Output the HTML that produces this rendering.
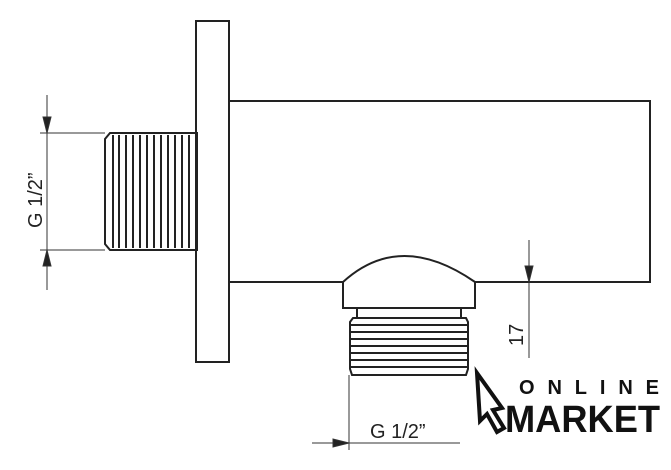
<!DOCTYPE html>
<html><head><style>body{margin:0;background:#fff}svg{display:block}</style></head><body>
<svg width="671" height="470" viewBox="0 0 671 470" xmlns="http://www.w3.org/2000/svg" font-family="Liberation Sans, sans-serif">
<g fill="none" stroke="#222" stroke-width="2">
<rect x="196" y="21" width="33" height="341"/>
<polyline points="229,101 650,101 650,282 475,282"/>
<line x1="229" y1="282" x2="343" y2="282"/>
<path d="M343,282 Q400,230 475,282 L475,308 L343,308 Z"/>
<rect x="357" y="308" width="104" height="10"/>
<path d="M110,133 L197,133 L197,250 L110,250 L105,244 L105,139 Z"/>
</g>
<g stroke="#222" stroke-width="2">
<line x1="113" y1="135" x2="113" y2="248"/><line x1="119" y1="135" x2="119" y2="248"/>
<line x1="126" y1="135" x2="126" y2="248"/><line x1="133" y1="135" x2="133" y2="248"/>
<line x1="140" y1="135" x2="140" y2="248"/><line x1="147" y1="135" x2="147" y2="248"/>
<line x1="154" y1="135" x2="154" y2="248"/><line x1="161" y1="135" x2="161" y2="248"/>
<line x1="168" y1="135" x2="168" y2="248"/><line x1="175" y1="135" x2="175" y2="248"/>
<line x1="182" y1="135" x2="182" y2="248"/><line x1="189" y1="135" x2="189" y2="248"/>
</g>
<g stroke="#222" stroke-width="2" fill="none">
<path d="M353,318 L466,318 L468,322 L468,369 L466,375 L352,375 L350,369 L350,322 Z"/>
<line x1="350" y1="325" x2="468" y2="325"/><line x1="350" y1="332" x2="468" y2="332"/>
<line x1="350" y1="339" x2="468" y2="339"/><line x1="350" y1="346" x2="468" y2="346"/>
<line x1="350" y1="353" x2="468" y2="353"/><line x1="350" y1="360" x2="468" y2="360"/>
<line x1="350" y1="367" x2="468" y2="367"/>
</g>
<g stroke="#333" stroke-width="1" fill="#222">
<line x1="47" y1="95" x2="47" y2="290"/>
<line x1="40" y1="133" x2="105" y2="133"/><line x1="40" y1="250" x2="105" y2="250"/>
<path d="M43,117 L51,117 L47,133 Z"/><path d="M43,266 L51,266 L47,250 Z"/>
<line x1="529" y1="240" x2="529" y2="358"/>
<path d="M525,266 L533,266 L529,282 Z"/>
<line x1="312" y1="443" x2="460" y2="443"/>
<line x1="349" y1="375" x2="349" y2="450"/>
<path d="M333,439 L333,447 L349,443 Z"/>
</g>
<g fill="#222" font-size="20">
<text transform="translate(42,228) rotate(-90)">G 1/2”</text>
<text transform="translate(523,346) rotate(-90)">17</text>
<text x="370" y="438">G 1/2”</text>
</g>
<path d="M477,373 L502,408 L493,410 L504,428 L497,432 L487,414 L480,421 Z" fill="none" stroke="#111" stroke-width="4"/>
<text x="519" y="394" font-size="20" font-weight="bold" fill="#111" textLength="140" lengthAdjust="spacing">ONLINE</text>
<text x="505" y="432" font-size="38" font-weight="bold" fill="#111" textLength="155" lengthAdjust="spacingAndGlyphs">MARKET</text>
</svg>
</body></html>
